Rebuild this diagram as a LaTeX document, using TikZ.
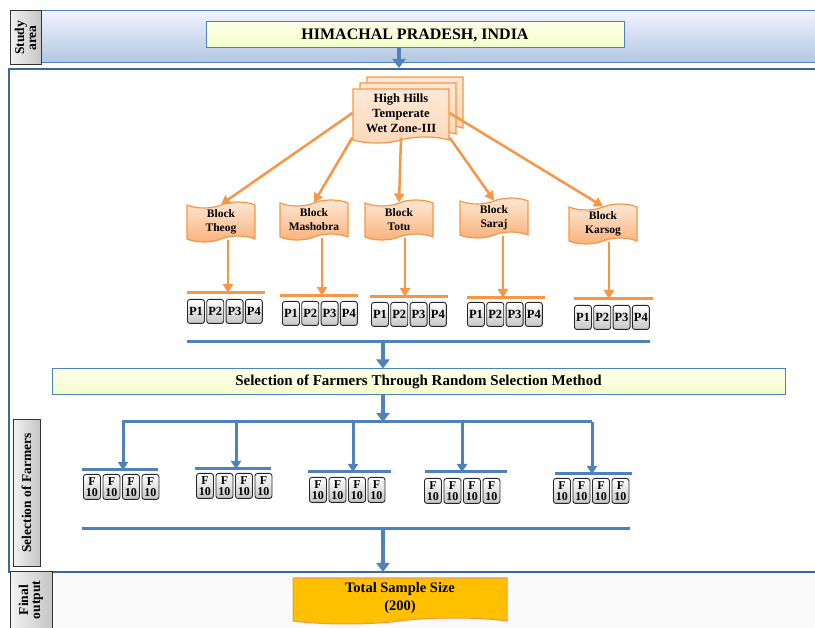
\documentclass[tikz,border=0pt]{standalone}
\usepackage{fontspec}
\setmainfont{Liberation Serif}
\usetikzlibrary{shapes.symbols,arrows.meta}
\definecolor{oblue}{HTML}{4F81BD}
\definecolor{oorange}{HTML}{F79646}
\definecolor{lorange}{HTML}{FCD9BA}
\definecolor{borange}{HTML}{F9B27A}
\definecolor{ogold}{HTML}{FFC000}
\begin{document}
\begin{tikzpicture}[x=1pt,y=-1pt,
  every node/.style={font=\bfseries},
  barrow/.style={draw=oblue, line width=4.5pt, -{Triangle[width=13pt,length=9pt]}},
  sarrow/.style={draw=oblue, line width=3pt, -{Triangle[width=10pt,length=8pt]}},
  bline/.style={draw=oblue, line width=3pt},
  oarrow/.style={draw=oorange, line width=2.5pt, -{Triangle[width=10pt,length=9pt]}},
  oline/.style={draw=oorange, line width=3pt},
  label/.style={draw=black!80, line width=1pt, left color=gray!10, right color=gray!45, rotate=90, inner sep=1pt, font=\bfseries\fontsize{13.5}{12}\selectfont, align=center},
  bluebox/.style={draw=oblue, line width=1pt, top color=green!3!yellow!8, bottom color=green!25!yellow!22, align=center},
  blockbox/.style={shape=tape, draw=oorange, line width=1.2pt, top color=lorange!60, bottom color=borange, tape bend top=in and out, tape bend bottom=in and out, tape bend height=6pt, minimum width=68pt, minimum height=40pt, align=center, font=\bfseries\fontsize{11.5}{14}\selectfont, inner sep=1pt},
  zonebox/.style={shape=tape, draw=oorange, line width=1.2pt, top color=lorange!60, bottom color=lorange, tape bend top=none, tape bend bottom=in and out, tape bend height=6pt, minimum width=96pt, minimum height=54pt, inner sep=1pt, align=center, font=\bfseries\fontsize{12.5}{15}\selectfont},
  pbox/.style={draw=black!85, line width=0.9pt, rounded corners=2.5pt, top color=white, bottom color=gray!45, minimum width=17pt, minimum height=24pt, inner sep=0pt, font=\bfseries\fontsize{12.5}{12}\selectfont, anchor=north west},
  fbox/.style={draw=black!85, line width=0.9pt, rounded corners=2.5pt, top color=white, bottom color=gray!45, minimum width=17pt, minimum height=25pt, inner sep=0pt, align=center, font=\bfseries\fontsize{12}{10.5}\selectfont, anchor=north west}
]
\useasboundingbox (0,0) rectangle (815,628);
% study area band
\fill[top color=blue!5, bottom color=oblue!45] (41,11) rectangle (815,63);
\draw[oblue, line width=1pt] (815,11) -- (41,11) -- (41,63) -- (815,63);
\node[label, minimum width=54pt, minimum height=31pt] (lstudy) at (25.5,38) {Study\\area};
\node[bluebox, minimum width=418pt, minimum height=26pt, font=\bfseries\fontsize{16}{16}\selectfont] (him) at (415,35) {HIMACHAL PRADESH, INDIA};
% main frame
\draw[oblue!80!black, line width=1.6pt] (815,69) -- (9,69) -- (9,572) -- (815,572);
\fill[gray!4] (52,573.5) rectangle (815,628);
\coordinate (mtop) at (399,68);
\draw[barrow] (him.south -| mtop) -- (mtop);
\node[label, minimum width=147pt, minimum height=27pt] (lsel) at (26.5,493) {Selection of Farmers};
\node[label, minimum width=56pt, minimum height=42pt] (lfin) at (31,600) {Final\\output};
% zone
\node[zonebox] (z3) at (415,101) {};
\node[zonebox] (z2) at (408,107) {};
\node[zonebox] (zone) at (401,113) {High Hills\\Temperate\\Wet Zone-III};
% blocks
\node[blockbox] (theog) at (221,222) {Block\\Theog};
\node[blockbox] (mash) at (314,220) {Block\\Mashobra};
\node[blockbox] (totu) at (399,220) {Block\\Totu};
\node[blockbox] (saraj) at (494,218) {Block\\Saraj};
\node[blockbox] (kars) at (603,224) {Block\\Karsog};
\draw[oarrow] (zone.west) -- (theog.north);
\draw[oarrow] (zone.south west) -- (mash.north);
\draw[oarrow] (zone.south) -- (totu.north);
\draw[oarrow] (zone.south east) -- (saraj.north);
\draw[oarrow] (zone.east) -- (kars.north);
% P groups: name/arrow x/line y/line x1/x2/box x/box y
\foreach \n/\ax/\ly/\la/\lb/\bx/\by in {theog/228/293/187/265/187/299, mash/322/296/280/358/282/301, totu/405/297/370/448/371/302, saraj/503/298/467/545/467/302, kars/609/299/574/653/574/305}{
  \coordinate (\n-l) at (\ax,\ly);
  \draw[oline] (\la,\ly) -- (\lb,\ly);
  \draw[oarrow] (\n.south -| \n-l) -- (\n-l);
  \foreach \i in {1,...,4}{
    \node[pbox] (\n-p\i) at ({\bx+(\i-1)*19.3},\by) {P\i};
  }
}
% collector line
\coordinate (pcl) at (187,342);
\coordinate (pcr) at (650,342);
\coordinate (pcm) at (383,342);
\draw[bline] (pcl) -- (pcr);
\node[bluebox, minimum width=733pt, minimum height=26pt, font=\bfseries\fontsize{15}{15}\selectfont] (sel) at (418.5,382) {Selection of Farmers Through Random Selection Method};
\draw[barrow] (pcm) -- (pcm |- sel.north);
\coordinate (brm) at (383,422);
\draw[barrow] (sel.south -| brm) -- (brm);
\draw[bline] (121.5,422) -- (592,422);
% F groups: arrow x / line y / line x1 / x2 / box x / box y
\foreach \n/\ax/\ly/\la/\lb/\bx/\by in {g1/123/470/82/158/83/474, g2/236/469/195/271/196/473, g3/353/472/308/391/309/477, g4/462/472/425/507/424/478, g5/592/474/555/632/553/478}{
  \coordinate (\n-t) at (\ax,422);
  \coordinate (\n-l) at (\ax,\ly);
  \draw[bline] (\la,\ly) -- (\lb,\ly);
  \draw[sarrow] (\n-t) -- (\n-l);
  \foreach \i in {1,...,4}{
    \node[fbox] (\n-f\i) at ({\bx+(\i-1)*19.5},\by) {F\\10};
  }
}
\coordinate (fcl) at (82,529);
\coordinate (fcr) at (630,529);
\coordinate (fcm) at (383,529);
\draw[bline] (fcl) -- (fcr);
\node[shape=tape, draw=oorange, line width=1pt, fill=ogold, tape bend top=none, tape bend bottom=in and out, tape bend height=6pt, minimum width=214pt, minimum height=46pt, inner sep=1pt, align=center, font=\bfseries\fontsize{14.5}{18}\selectfont] (total) at (400,598) {Total Sample Size\\(200)};
\coordinate (fin) at (383,572);
\draw[barrow] (fcm) -- (fin);
\end{tikzpicture}
\end{document}
